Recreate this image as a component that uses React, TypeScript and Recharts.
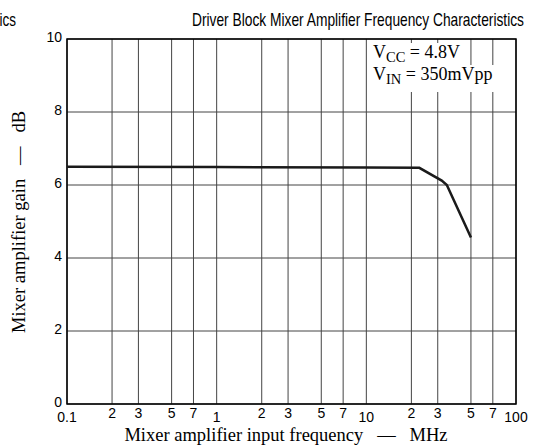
import React from "react";
import { LineChart, Line, XAxis, YAxis, CartesianGrid, ReferenceArea } from "recharts";

// Frequency (MHz) and gain (dB)
const freqMHz = [0.1, 1, 10, 22.6, 31.9, 34.5, 50];
const gainDb = [6.5, 6.49, 6.48, 6.47, 6.12, 6.0, 4.56];

const xTicks = [0.1, 0.2, 0.3, 0.5, 0.7, 1, 2, 3, 5, 7, 10, 20, 30, 50, 70, 100];
const xTickLabels = ["0.1", "2", "3", "5", "7", "1", "2", "3", "5", "7", "10", "2", "3", "5", "7", "100"];
const decades = [0.1, 1, 10, 100];
const yTicks = [0, 2, 4, 6, 8, 10];

const data = freqMHz.map((f, i) => ({ f, g: gainDb[i] }));

const W = 535;
const H = 447;
const SANS = "'Liberation Sans Narrow', 'Liberation Sans', Arial, sans-serif";
const SERIF = "'Liberation Serif', 'Times New Roman', serif";
const TICKFONT = "'Liberation Sans', Arial, sans-serif";

const XTick = (props: any) => {
  const { x, y, payload } = props;
  const idx = xTicks.indexOf(payload.value);
  const label = idx >= 0 ? xTickLabels[idx] : String(payload.value);
  const isDecade = decades.includes(payload.value);
  return (
    <text x={x} y={y + (isDecade ? 18 : 14)} textAnchor="middle" fontSize={14} fontFamily={TICKFONT} fill="#000">
      {label}
    </text>
  );
};

const YTick = (props: any) => {
  const { x, y, payload } = props;
  return (
    <text x={x} y={y + 3} textAnchor="end" fontSize={14} fontFamily={TICKFONT} fill="#000">
      {payload.value}
    </text>
  );
};

export default function App() {
  return (
    <div style={{ position: "absolute", left: 0, top: 0, width: W, height: H, background: "#fff" }}>
      <LineChart width={W} height={H} data={data} margin={{ top: 39, right: 19, bottom: 13, left: 37 }}>
        <CartesianGrid stroke="#444" strokeWidth={1} />
        <XAxis
          dataKey="f"
          type="number"
          scale="log"
          domain={[0.1, 100]}
          ticks={xTicks}
          allowDataOverflow
          height={30}
          tickSize={0}
          tickMargin={0}
          axisLine={false}
          tickLine={false}
          interval={0}
          tick={<XTick />}
        />
        <YAxis
          type="number"
          domain={[0, 10]}
          ticks={yTicks}
          width={30}
          tickSize={0}
          tickMargin={5}
          axisLine={false}
          tickLine={false}
          interval={0}
          tick={<YTick />}
        />
        <ReferenceArea x1={0.1} x2={100} y1={0} y2={10} fill="none" fillOpacity={0} stroke="#000" strokeWidth={1.5} ifOverflow="visible" />
        <Line dataKey="g" type="linear" stroke="#1a1a1a" strokeWidth={2.5} dot={false} isAnimationActive={false} />
      </LineChart>
      <svg width={W} height={H} style={{ position: "absolute", left: 0, top: 0, pointerEvents: "none" }}>
        <text x={0} y={0} transform="translate(16,26) scale(0.71,1)" textAnchor="end" fontSize={19} fontFamily={SANS} fill="#000">Characteristics</text>
        <text x={192} y={26} fontSize={19} fontFamily={SANS} fill="#000" textLength={332} lengthAdjust="spacingAndGlyphs">
          Driver Block Mixer Amplifier Frequency Characteristics
        </text>
        <rect x={370} y={43} width={96} height={22} fill="#fff" />
        <rect x={370} y={65} width={143} height={27} fill="#fff" />
        <text x={373} y={58} fontSize={18} fontFamily={SERIF} fill="#000">
          V<tspan fontSize={14.5} dy={4}>CC</tspan><tspan dy={-4}>{" = 4.8V"}</tspan>
        </text>
        <text x={373} y={80} fontSize={18} fontFamily={SERIF} fill="#000">
          V<tspan fontSize={14.5} dy={4}>IN</tspan><tspan dy={-4}>{" = 350mVpp"}</tspan>
        </text>
        <text x={286} y={441} textAnchor="middle" fontSize={18.5} fontFamily={SERIF} fill="#000">
          {"Mixer amplifier input frequency\u00A0\u00A0 \u2014 \u00A0\u00A0MHz"}
        </text>
        <text x={0} y={0} transform="translate(25,222) rotate(-90)" textAnchor="middle" fontSize={18.5} fontFamily={SERIF} fill="#000">
          {"Mixer amplifier gain\u00A0\u00A0 \u2014 \u00A0\u00A0dB"}
        </text>
      </svg>
    </div>
  );
}
